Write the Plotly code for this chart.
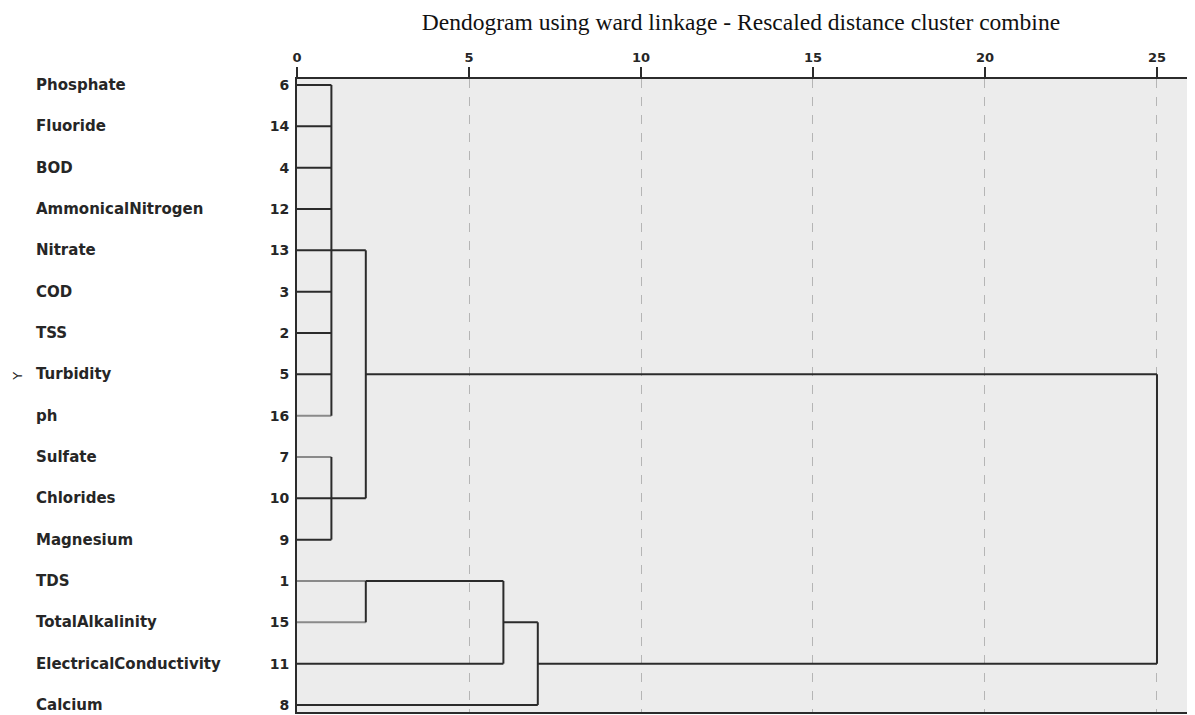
import plotly.graph_objects as go

# ---- data ----
names = ["Phosphate", "Fluoride", "BOD", "AmmonicalNitrogen", "Nitrate", "COD", "TSS",
         "Turbidity", "ph", "Sulfate", "Chlorides", "Magnesium", "TDS", "TotalAlkalinity",
         "ElectricalConductivity", "Calcium"]
case_ids = [6, 14, 4, 12, 13, 3, 2, 5, 16, 7, 10, 9, 1, 15, 11, 8]
# distance where each leaf's line ends
leaf_end = [1, 1, 1, 1, 2, 1, 1, 1, 1, 1, 2, 1, 2, 2, 6, 7]
leaf_light = [False] * 8 + [True, True] + [False] * 2 + [True, True] + [False] * 2
# merges: (height, first row, last row)
merge_height = [1, 1, 2, 2, 6, 7, 25]
merge_top = [0, 9, 4, 12, 12, 13, 7]
merge_bottom = [8, 11, 10, 13, 14, 15, 14]
# cluster links: (row, from distance, to distance)
link_row = [12, 13, 7, 14]
link_from = [2, 6, 2, 7]
link_to = [6, 7, 25, 25]
x_ticks = [0, 5, 10, 15, 20, 25]

DARK = "#2b2b2b"
LIGHT = "#8a8a8a"
TXT = "#262626"

fig = go.Figure()

def seg(xs, ys, color):
    fig.add_trace(go.Scatter(x=xs, y=ys, mode="lines", line=dict(color=color, width=2),
                             hoverinfo="skip", showlegend=False))

for i, e in enumerate(leaf_end):
    seg([0, e], [i, i], LIGHT if leaf_light[i] else DARK)
for h, a, b in zip(merge_height, merge_top, merge_bottom):
    seg([h, h], [a, b], DARK)
for r, a, b in zip(link_row, link_from, link_to):
    seg([a, b], [r, r], DARK)

for i, n in enumerate(names):
    fig.add_annotation(x=-0.2925, xref="paper", y=i, yref="y", text=n, showarrow=False,
                       xanchor="left", yanchor="middle",
                       font=dict(family="DejaVu Sans", size=15, weight="bold", color=TXT))

fig.add_annotation(x=-0.322, xref="paper", y=7.05, yref="y", text="Y", showarrow=False,
                   textangle=-90, font=dict(family="DejaVu Sans", size=13, color=TXT))

fig.update_layout(
    width=1187, height=707,
    margin=dict(l=289, r=0, t=71, b=3),
    paper_bgcolor="white", plot_bgcolor="#ececec",
    title=dict(text="Dendogram using ward linkage - Rescaled distance cluster combine",
               x=0.6175, xanchor="center", y=0.981, yanchor="middle",
               font=dict(family="Liberation Serif", size=23.5, color="#111")),
    xaxis=dict(side="top", range=[0, 26.105], tickvals=x_ticks, showgrid=True,
               gridcolor="#b5b5b5", griddash="dash", gridwidth=1, zeroline=False,
               showline=True, linecolor=DARK, linewidth=2, mirror=True,
               ticks="outside", ticklen=10, tickwidth=2, tickcolor=DARK,
               tickfont=dict(family="DejaVu Sans", size=13, weight="bold", color=TXT)),
    yaxis=dict(range=[15.17, -0.145], tickvals=list(range(len(names))), ticktext=[str(c) for c in case_ids],
               showgrid=False, zeroline=False, showline=True, linecolor=DARK, linewidth=2,
               ticks="", ticklabelstandoff=3,
               tickfont=dict(family="DejaVu Sans", size=14, weight="bold", color=TXT)),
)

fig.write_html("out.html")
